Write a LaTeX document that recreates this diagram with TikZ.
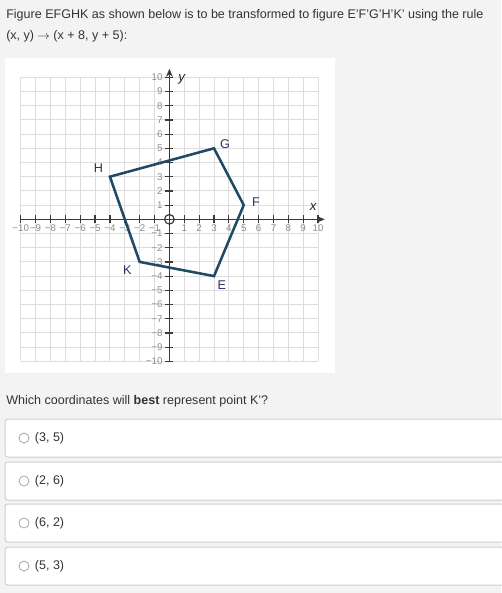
\documentclass[tikz,border=0pt]{standalone}
\usepackage{fontspec}
\setmainfont{Liberation Sans}
\usepackage{xcolor}
\usetikzlibrary{arrows.meta,positioning}

\definecolor{pagebg}{HTML}{F3F3F3}
\definecolor{gridgray}{HTML}{DDDDDD}
\definecolor{axisgray}{HTML}{3A3A3A}
\definecolor{ticktext}{HTML}{8C8C8C}
\definecolor{shapeblue}{HTML}{1F4A66}
\definecolor{vertexlabel}{HTML}{2E2E6E}
\definecolor{bodytext}{HTML}{333333}
\definecolor{boxline}{HTML}{CFCFCF}

\tikzset{
  bodytxt/.style={font=\fontsize{9.4pt}{12pt}\selectfont, text=bodytext, inner sep=0pt},
  ticklbl/.style={font=\fontsize{7.3pt}{8pt}\selectfont, text=ticktext, inner sep=0pt},
  vertexlbl/.style={font=\fontsize{9.5pt}{11pt}\selectfont, text=vertexlabel, inner sep=0pt},
  axislbl/.style={font=\fontsize{10pt}{11pt}\selectfont\itshape, text=black!85, inner sep=0pt},
  choicebox/.style={draw=boxline, fill=white, rounded corners=2pt, line width=0.75pt},
  radio/.style={circle, draw=gray!80, fill=white, minimum size=7.5pt, inner sep=0pt, line width=0.5pt},
}

\begin{document}
\begin{tikzpicture}[x=0.75pt,y=-0.75pt]
    % Page
    \fill[pagebg] (0,0) rectangle (501,593);
    \useasboundingbox (0,0) rectangle (501,593);

    % Question
    \node[bodytxt, anchor=base west] (question) at (6,18.5)
        {Figure EFGHK as shown below is to be transformed to figure E'F'G'H'K' using the rule};
    \node[bodytxt, anchor=base west] (rule) at (6,39.5) {(x, y) $\rightarrow$ (x + 8, y + 5):};

    % Graph panel
    \fill[white] (5,58) rectangle (335,373);
    \begin{scope}[shift={(169.4,219.3)}, x=11.15pt, y=10.65pt]
        % Grid
        \draw[gridgray, line width=0.75pt, step={(1,1)}] (-10,-10) grid (10,10);

        % Axes
        \draw[axisgray, line width=1.1pt, -{Stealth[length=6pt,width=5pt]}] (-10,0) -- (10.45,0);
        \draw[axisgray, line width=1.1pt, -{Stealth[length=6pt,width=5pt]}] (0,-10) -- (0,10.6);
        \node[axislbl] (xlbl) at (9.68,0.89) {x};
        \node[axislbl] (ylbl) at (0.83,9.88) {y};
        \draw[axisgray, line width=0.9pt] (0,0) circle[radius=3.6pt];

        % Ticks and numbers
        \foreach \i in {-10,...,10} {
            \draw[axisgray, line width=0.9pt] (\i,-0.28) -- (\i,0.28);
            \draw[axisgray, line width=0.9pt] (-0.27,\i) -- (0.27,\i);
        }
        \foreach \i in {1,...,10} {
            \node[ticklbl] at (\i,-0.63) {\i};
            \node[ticklbl] at (-\i,-0.63) {−\i};
            \node[ticklbl, anchor=east] at (-0.45,\i) {\i};
            \node[ticklbl, anchor=east] at (-0.45,-\i) {−\i};
        }

        % Figure EFGHK
        \coordinate (E) at (3,-4);
        \coordinate (F) at (5,1);
        \coordinate (G) at (3,5);
        \coordinate (H) at (-4,3);
        \coordinate (K) at (-2,-3);
        \draw[shapeblue, line width=1.9pt] (E) -- (F) -- (G) -- (H) -- (K) -- cycle;

        \node[vertexlbl] (labE) at (3.52,-4.63) {E};
        \node[vertexlbl] (labF) at (5.82,1.24) {F};
        \node[vertexlbl] (labG) at (3.74,5.28) {G};
        \node[vertexlbl] (labH) at (-4.78,3.59) {H};
        \node[vertexlbl] (labK) at (-2.83,-3.57) {K};
    \end{scope}

    % Answer choices
    \node[bodytxt, anchor=base west] (ask) at (6,404)
        {Which coordinates will \textbf{best} represent point K'?};
    \foreach \k/\yc/\ans in {1/438/{(3, 5)}, 2/481/{(2, 6)}, 3/523/{(6, 2)}, 4/566/{(5, 3)}} {
        \draw[choicebox] (5,\yc-19) rectangle (512,\yc+19);
        \node[radio] (radio\k) at (24,\yc) {};
        \node[bodytxt, right=4pt of radio\k] (choice\k) {\ans};
    }
\end{tikzpicture}
\end{document}
